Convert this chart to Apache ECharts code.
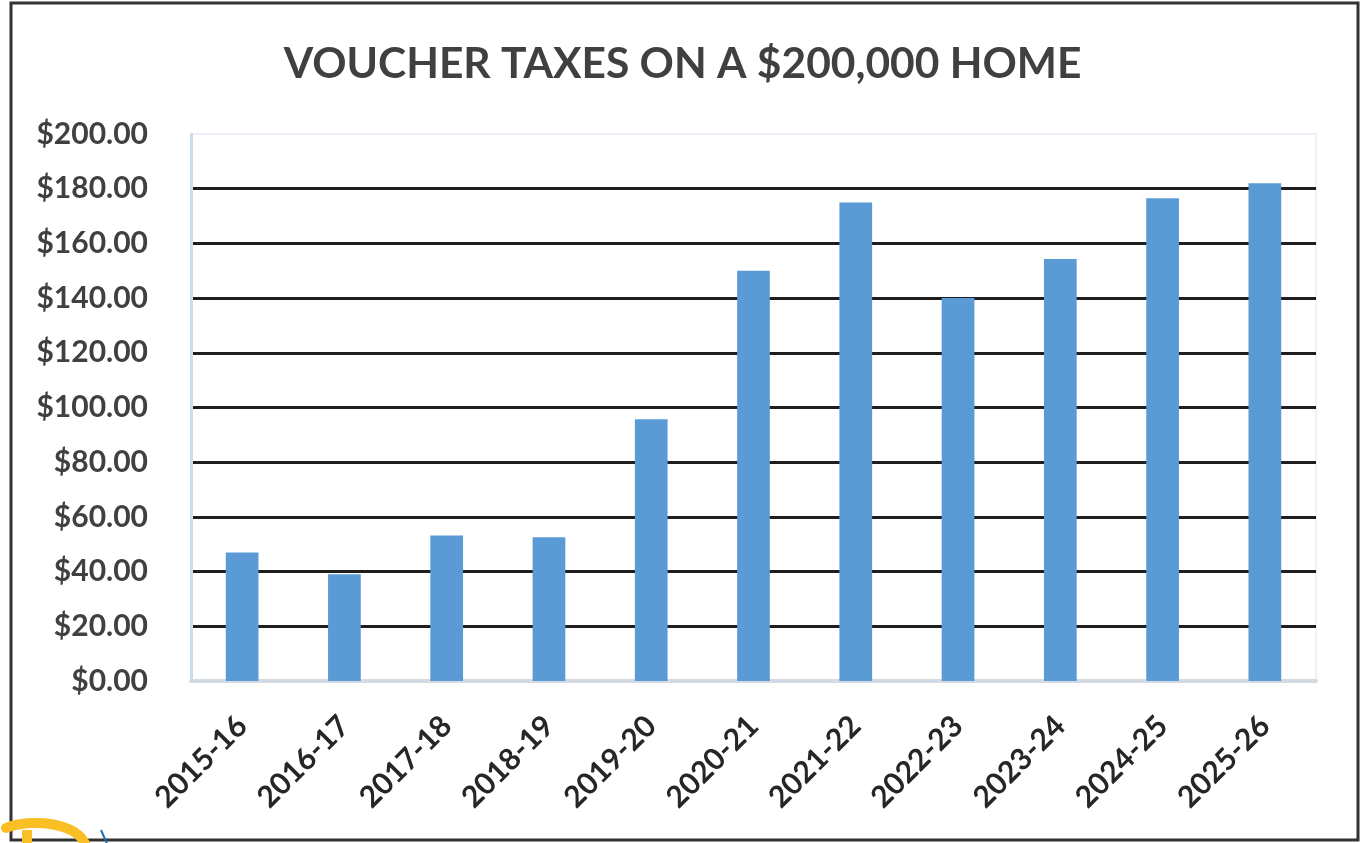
<!DOCTYPE html>
<html>
<head>
<meta charset="utf-8">
<script src="https://cdn.jsdelivr.net/npm/echarts@6/dist/echarts.min.js"></script>
<style>
html,body{margin:0;padding:0;background:#fff;}
#chart{width:1365px;height:843px;}
</style>
</head>
<body>
<div id="chart"></div>
<script>
const titleText = 'VOUCHER TAXES ON A $200,000 HOME';
const categories = ['2015-16','2016-17','2017-18','2018-19','2019-20','2020-21','2021-22','2022-23','2023-24','2024-25','2025-26'];
const taxValues = [47, 39, 53.2, 52.6, 95.7, 150, 175, 140, 154.3, 176.5, 182];
const yMin = 0, yMax = 200, yStep = 20;

const chart = echarts.init(document.getElementById('chart'));
const fontFam = 'Lato, "Open Sans", sans-serif';
chart.setOption({
  backgroundColor: '#ffffff',
  animation: false,
  title: {
    text: titleText,
    left: 'center',
    top: 38,
    textStyle: {fontFamily: fontFam, fontWeight: 'bold', fontSize: 42.5, color: '#404040'}
  },
  grid: {
    left: 191, right: 49, top: 134, bottom: 162,
    show: true, borderColor: '#eef2f8', borderWidth: 2, containLabel: false
  },
  xAxis: {
    type: 'category',
    data: categories,
    axisLine: {show: true, lineStyle: {color: '#d3dae3', width: 4}},
    axisTick: {show: false},
    axisLabel: {
      rotate: 45, margin: 40, interval: 0,
      fontFamily: fontFam, fontWeight: 'bold', fontSize: 30, color: '#262626'
    }
  },
  yAxis: {
    type: 'value',
    min: yMin, max: yMax, interval: yStep,
    axisLine: {show: true, lineStyle: {color: '#c9ddf1', width: 3}},
    axisTick: {show: false},
    splitLine: {show: true, showMinLine: false, showMaxLine: false, lineStyle: {color: '#1e1e1e', width: 3}},
    axisLabel: {
      margin: 43,
      fontFamily: fontFam, fontWeight: 'bold', fontSize: 30, color: '#404040',
      formatter: v => '$' + v.toFixed(2)
    }
  },
  series: [{
    type: 'bar',
    data: taxValues,
    barWidth: '32%',
    itemStyle: {color: '#5b9bd5'}
  }],
  graphic: [{
    type: 'rect',
    shape: {x: 11, y: 3, width: 1347, height: 837},
    style: {fill: 'none', stroke: '#333333', lineWidth: 3},
    z: 100
  }, {
    type: 'bezierCurve',
    shape: {x1: 6, y1: 828, cpx1: 30, cpy1: 818, cpx2: 78, cpy2: 822, x2: 86, y2: 846},
    style: {fill: 'none', stroke: '#f9bf24', lineWidth: 10, lineCap: 'round'},
    z: 101
  }, {
    type: 'line',
    shape: {x1: 27, y1: 830, x2: 27, y2: 846},
    style: {stroke: '#f9bf24', lineWidth: 10},
    z: 101
  }, {
    type: 'line',
    shape: {x1: 101, y1: 830, x2: 108, y2: 846},
    style: {stroke: '#1f6fb2', lineWidth: 2},
    z: 101
  }]
});
</script>
</body>
</html>
